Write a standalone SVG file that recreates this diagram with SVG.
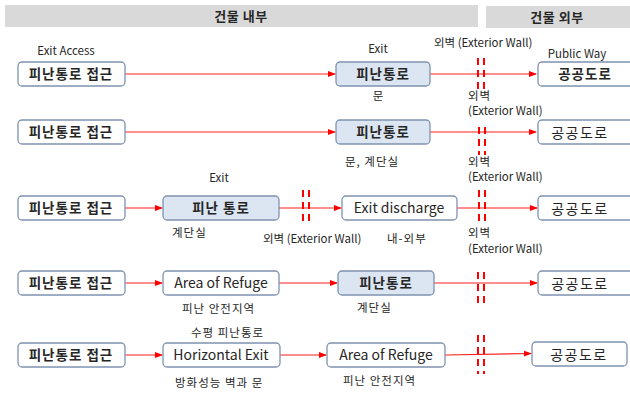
<svg xmlns="http://www.w3.org/2000/svg" width="630" height="394" viewBox="0 0 630 394">
<style>
text{font-family:"Noto Sans CJK KR","Noto Sans",sans-serif;fill:#262626}
.hd{font-size:13px;font-weight:bold;text-anchor:middle;letter-spacing:0.5px}
.bx{fill:#fff;stroke:#7f93b0;stroke-width:1.3}
.bl{fill:#dce6f2;stroke:#7f93b0;stroke-width:1.3}
.t{font-size:13.5px;text-anchor:middle;font-weight:bold;letter-spacing:1px}
.te{font-size:14px;text-anchor:middle}
.tr{font-size:14px;text-anchor:middle;letter-spacing:1.5px}
.lb{font-size:11.5px;text-anchor:middle}
.ll{font-size:11.5px}
.k{letter-spacing:1px}
.c{stroke:#ff2020;stroke-width:1.2;fill:none}
.w{stroke:#ff0000;stroke-width:2;stroke-dasharray:7,5;fill:none}
</style>
<defs>
<marker id="ah" markerWidth="8" markerHeight="8" refX="7" refY="4" orient="auto" markerUnits="userSpaceOnUse">
<path d="M0,1 L8,4 L0,7 Z" fill="#ff0000"/>
</marker>
</defs>
<g id="header">
<rect x="5" y="5" width="473" height="22" fill="#d9d9d9"/>
<text class="hd" x="241" y="21">건물 내부</text>
<rect x="486" y="6" width="144" height="22" fill="#d9d9d9"/>
<text class="hd" x="557" y="22">건물 외부</text>
</g>
<g id="connectors">
<line class="c" x1="125" y1="74" x2="335" y2="74" marker-end="url(#ah)"/>
<line class="c" x1="430" y1="74" x2="536" y2="74" marker-end="url(#ah)"/>
<line class="c" x1="125" y1="132" x2="335" y2="132" marker-end="url(#ah)"/>
<line class="c" x1="430" y1="132" x2="536" y2="132" marker-end="url(#ah)"/>
<line class="c" x1="125" y1="208" x2="162" y2="208" marker-end="url(#ah)"/>
<line class="c" x1="279" y1="208" x2="341" y2="208" marker-end="url(#ah)"/>
<line class="c" x1="457" y1="208" x2="537" y2="208" marker-end="url(#ah)"/>
<line class="c" x1="125" y1="283" x2="162" y2="283" marker-end="url(#ah)"/>
<line class="c" x1="279" y1="283" x2="337" y2="283" marker-end="url(#ah)"/>
<line class="c" x1="434" y1="283" x2="537" y2="283" marker-end="url(#ah)"/>
<line class="c" x1="125" y1="355" x2="162" y2="355" marker-end="url(#ah)"/>
<line class="c" x1="280" y1="355" x2="326" y2="355" marker-end="url(#ah)"/>
<line class="c" x1="445" y1="355" x2="531" y2="353.5" marker-end="url(#ah)"/>
</g>
<g id="walls">
<line class="w" x1="478" y1="58" x2="478" y2="92"/><line class="w" x1="484" y1="58" x2="484" y2="92"/>
<line class="w" x1="479" y1="127" x2="479" y2="155"/><line class="w" x1="485" y1="127" x2="485" y2="155"/>
<line class="w" x1="479" y1="190" x2="479" y2="225"/><line class="w" x1="485" y1="190" x2="485" y2="225"/>
<line class="w" x1="303" y1="190" x2="303" y2="224"/><line class="w" x1="309" y1="190" x2="309" y2="224"/>
<line class="w" x1="478" y1="272" x2="478" y2="306"/><line class="w" x1="484" y1="272" x2="484" y2="306"/>
<line class="w" x1="478" y1="335" x2="478" y2="374"/><line class="w" x1="484" y1="335" x2="484" y2="374"/>
</g>
<g id="labels">
<text class="lb" x="66" y="55">Exit Access</text>
<text class="lb" x="378" y="53">Exit</text>
<text class="ll" x="434" y="47">외벽 (Exterior Wall)</text>
<text class="lb" x="577" y="58">Public Way</text>
<text class="lb" x="378" y="100">문</text>
<text class="ll k" x="468" y="100">외벽</text>
<text class="ll" x="468" y="115">(Exterior Wall)</text>
<text class="ll k" x="345" y="166">문, 계단실</text>
<text class="ll k" x="468" y="166">외벽</text>
<text class="ll" x="468" y="181">(Exterior Wall)</text>
<text class="lb" x="219" y="182">Exit</text>
<text class="ll k" x="172" y="237">계단실</text>
<text class="ll" x="263" y="243">외벽 (Exterior Wall)</text>
<text class="ll k" x="387" y="243">내-외부</text>
<text class="ll k" x="468" y="237">외벽</text>
<text class="ll" x="468" y="253">(Exterior Wall)</text>
<text class="ll k" x="182" y="313">피난 안전지역</text>
<text class="ll k" x="357" y="312">계단실</text>
<text class="ll k" x="191" y="337">수평 피난통로</text>
<text class="ll k" x="175" y="387">방화성능 벽과 문</text>
<text class="ll k" x="343" y="385">피난 안전지역</text>
</g>
<g id="r1-access"><rect class="bx" x="18" y="62" width="107" height="24" rx="4"/><text class="t" x="71" y="79">피난통로 접근</text></g>
<g id="r1-exit"><rect class="bl" x="336" y="62" width="94" height="24" rx="4"/><text class="t" x="383" y="79">피난통로</text></g>
<g id="r1-public"><rect class="bx" x="538" y="62" width="96" height="24" rx="4"/><text class="t" x="585" y="79">공공도로</text></g>
<g id="r2-access"><rect class="bx" x="18" y="120" width="107" height="24" rx="4"/><text class="t" x="71" y="137">피난통로 접근</text></g>
<g id="r2-exit"><rect class="bl" x="336" y="120" width="94" height="24" rx="4"/><text class="t" x="383" y="137">피난통로</text></g>
<g id="r2-public"><rect class="bx" x="538" y="120" width="96" height="24" rx="4"/><text class="tr" x="580" y="138">공공도로</text></g>
<g id="r3-access"><rect class="bx" x="18" y="196" width="107" height="24" rx="4"/><text class="t" x="71" y="213">피난통로 접근</text></g>
<g id="r3-exit"><rect class="bl" x="163" y="196" width="116" height="24" rx="4"/><text class="t" x="221" y="213">피난 통로</text></g>
<g id="r3-discharge"><rect class="bx" x="342" y="196" width="115" height="24" rx="4"/><text class="te" x="399" y="213">Exit discharge</text></g>
<g id="r3-public"><rect class="bx" x="538" y="196" width="96" height="24" rx="4"/><text class="tr" x="580" y="214">공공도로</text></g>
<g id="r4-access"><rect class="bx" x="18" y="271" width="107" height="24" rx="4"/><text class="t" x="71" y="288">피난통로 접근</text></g>
<g id="r4-refuge"><rect class="bx" x="163" y="271" width="116" height="24" rx="4"/><text class="te" x="221" y="288">Area of Refuge</text></g>
<g id="r4-exit"><rect class="bl" x="338" y="271" width="96" height="24" rx="4"/><text class="t" x="386" y="288">피난통로</text></g>
<g id="r4-public"><rect class="bx" x="538" y="271" width="96" height="24" rx="4"/><text class="tr" x="580" y="289">공공도로</text></g>
<g id="r5-access"><rect class="bx" x="18" y="343" width="107" height="24" rx="4"/><text class="t" x="71" y="360">피난통로 접근</text></g>
<g id="r5-horizontal"><rect class="bx" x="163" y="343" width="117" height="24" rx="4"/><text class="te" x="221" y="360">Horizontal Exit</text></g>
<g id="r5-refuge"><rect class="bx" x="327" y="343" width="118" height="24" rx="4"/><text class="te" x="386" y="360">Area of Refuge</text></g>
<g id="r5-public"><rect class="bx" x="532" y="342" width="95" height="24" rx="4"/><text class="tr" x="579" y="360">공공도로</text></g>
</svg>
